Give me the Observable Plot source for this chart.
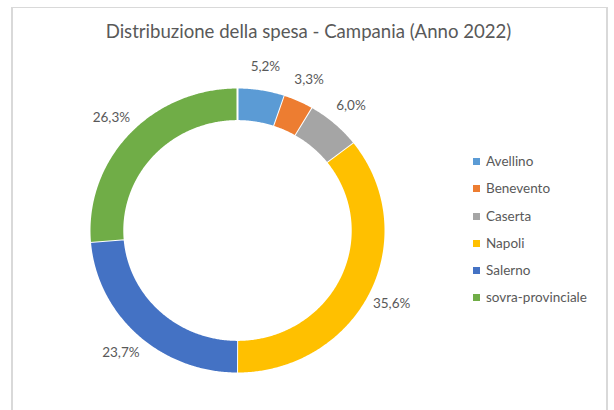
<!DOCTYPE html>
<html>
<head>
<meta charset="utf-8">
<script src="https://cdn.jsdelivr.net/npm/d3@7"></script>
<script src="https://cdn.jsdelivr.net/npm/@observablehq/plot@0.6"></script>
<style>
  html, body { margin: 0; padding: 0; background: #fff; }
  #wrap { position: relative; width: 614px; height: 410px; overflow: hidden; font-family: Lato, "Open Sans", sans-serif; }
  #frame { position: absolute; left: 11px; top: 7px; width: 593px; height: 420px; border-top: 1px solid #d9d9d9; border-left: 2px solid #d9d9d9; border-right: 2px solid #d9d9d9; }
  #title { position: absolute; left: 0; width: 617px; top: 20px; text-align: center; font-size: 18.6px; color: #595959; }
  #chart { position: absolute; left: 0; top: 0; }
  #legend { position: absolute; left: 470px; top: 153px; }
  .item { height: 27.3px; display: flex; align-items: flex-start; font-size: 13.5px; color: #595959; line-height: 16px; }
  .sw { width: 7px; height: 7px; margin: 5px 6px 0 3px; }
</style>
</head>
<body>
<div id="wrap">
  <div id="frame"></div>
  <div id="chart"></div>
  <div id="title">Distribuzione della spesa - Campania (Anno 2022)</div>
  <div id="legend"></div>
</div>
<script>
const categories = ["Avellino", "Benevento", "Caserta", "Napoli", "Salerno", "sovra-provinciale"];
const values = [5.2, 3.3, 6.0, 35.6, 23.7, 26.3];
const labels = ["5,2%", "3,3%", "6,0%", "35,6%", "23,7%", "26,3%"];
const colors = ["#5B9BD5", "#ED7D31", "#A5A5A5", "#FFC000", "#4472C4", "#70AD47"];

const W = 614, H = 410;
const cx = 237, cy = 230, rx = 148, ry = 143;
const inner = 0.765;
const labelR = 1.16;

const total = d3.sum(values);
let acc = 0;
const slices = categories.map((c, i) => {
  const a0 = acc / total * 2 * Math.PI;
  acc += values[i];
  const a1 = acc / total * 2 * Math.PI;
  return {cat: c, a0, a1, label: labels[i]};
});

const poly = [];
for (const s of slices) {
  const n = Math.max(4, Math.ceil((s.a1 - s.a0) / (Math.PI / 360)));
  for (let k = 0; k <= n; k++) {
    const a = s.a0 + (s.a1 - s.a0) * k / n;
    poly.push({cat: s.cat, x: Math.sin(a), y: Math.cos(a)});
  }
  for (let k = n; k >= 0; k--) {
    const a = s.a0 + (s.a1 - s.a0) * k / n;
    poly.push({cat: s.cat, x: inner * Math.sin(a), y: inner * Math.cos(a)});
  }
}

const labelPts = slices.map(s => {
  const a = (s.a0 + s.a1) / 2;
  return {label: s.label, x: labelR * Math.sin(a), y: labelR * Math.cos(a)};
});

const chart = Plot.plot({
  width: W, height: H,
  margin: 0,
  x: {domain: [-cx / rx, (W - cx) / rx], axis: null},
  y: {domain: [-(H - cy) / ry, cy / ry], axis: null},
  color: {domain: categories, range: colors},
  style: {background: "transparent", fontFamily: "Lato, 'Open Sans', sans-serif"},
  marks: [
    Plot.line(poly, {x: "x", y: "y", z: "cat", fill: "cat", stroke: "white", strokeWidth: 2, strokeLinejoin: "round", curve: "linear"}),
    Plot.text(labelPts, {x: "x", y: "y", text: "label", fill: "#595959", fontSize: 13.5, textAnchor: "middle"})
  ]
});
document.getElementById("chart").appendChild(chart);

const legend = document.getElementById("legend");
categories.forEach((c, i) => {
  const it = document.createElement("div");
  it.className = "item";
  it.innerHTML = `<div class="sw" style="background:${colors[i]}"></div><span>${c}</span>`;
  legend.appendChild(it);
});
</script>
</body>
</html>
